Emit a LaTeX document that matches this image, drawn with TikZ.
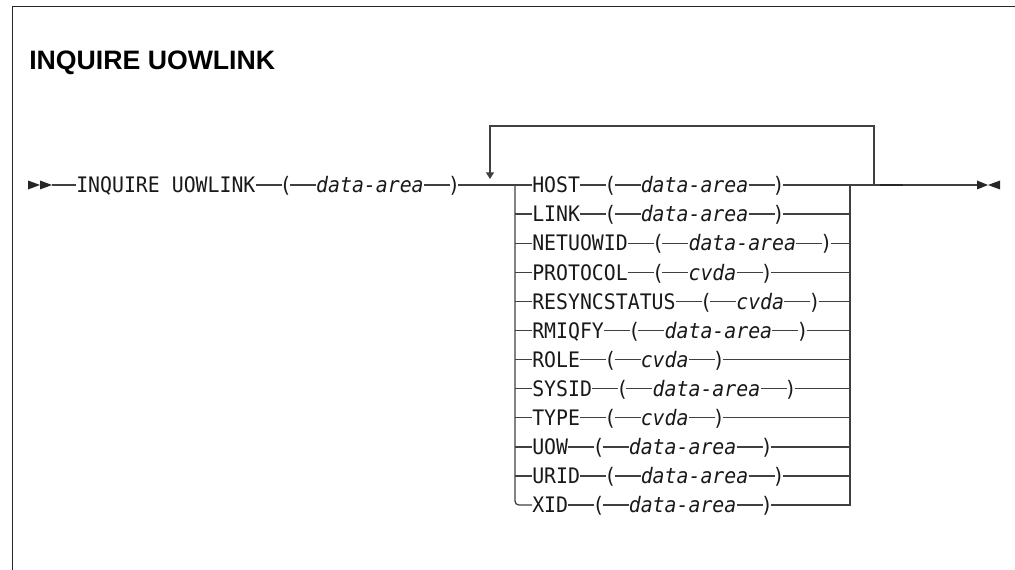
\documentclass[tikz,border=0pt]{standalone}
\usepackage{fontspec}
\setmonofont[FakeStretch=0.93,ItalicFont={DejaVu Sans Mono Oblique}]{DejaVu Sans Mono}
\newfontfamily\headfont{Liberation Sans}
\usetikzlibrary{positioning, calc, arrows.meta}

\tikzset{
  tok/.style={font=\ttfamily\fontsize{16}{16}\selectfont, inner sep=0pt, text height=11.7pt, text depth=0pt, text=black!90},
  var/.style={tok, font=\ttfamily\itshape\fontsize{16}{16}\selectfont},
  rail/.style={draw=black!75, line width=0.95pt},
  intoparen/.style={shorten >=-1.6pt},
  outofparen/.style={shorten <=-1.6pt},
}

\begin{document}
\begin{tikzpicture}[x=0.75pt, y=-0.75pt, node distance=17.9pt]
  \useasboundingbox (0,0) rectangle (1015,570);
  \draw[line width=1.1pt, black!85] (1015,6.5) -- (12.7,6.5) -- (12.7,570);
  \node[anchor=base west, inner sep=0pt, font=\headfont\bfseries\fontsize{20}{24}\selectfont] (title) at (29,70) {INQUIRE UOWLINK};

  \coordinate (begin) at (52,185);
  \coordinate (sl) at (515,185);
  \coordinate (sr) at (850,185);
  \coordinate (loopl) at (490,185);
  \coordinate (looptop) at (490,126);
  \coordinate (loopr) at (874,185);
  \coordinate (finish) at (977,185);

  % start
  \fill[black!85] (28,180.5) -- (40,185) -- (28,189.5) -- cycle (40,180.5) -- (52,185) -- (40,189.5) -- cycle;
  \node[tok, anchor=west] (cmd) at (76,185) {INQUIRE UOWLINK};
  \node[tok, right=of cmd] (lp) {(};
  \node[var, right=of lp] (arg) {data-area};
  \node[tok, right=of arg] (rp) {)};
  \draw[rail] (begin) -- (cmd);
  \draw[rail, intoparen] (cmd) -- (lp);
  \draw[rail, outofparen] (lp) -- (arg);
  \draw[rail, intoparen] (arg) -- (rp);

  % options
  \foreach \kw/\val [count=\i from 0] in {HOST/data-area, LINK/data-area, NETUOWID/data-area, PROTOCOL/cvda, RESYNCSTATUS/cvda, RMIQFY/data-area, ROLE/cvda, SYSID/data-area, TYPE/cvda, UOW/data-area, URID/data-area, XID/data-area} {
    \node[tok, anchor=west] (kw\i) at (532,{185+29.1*\i}) {\kw};
    \node[tok, right=of kw\i] (lp\i) {(};
    \node[var, right=of lp\i] (arg\i) {\val};
    \node[tok, right=of arg\i] (rp\i) {)};
    \draw[rail, intoparen] (kw\i) -- (lp\i);
    \draw[rail, outofparen] (lp\i) -- (arg\i);
    \draw[rail, intoparen] (arg\i) -- (rp\i);
    \ifnum\i<11
      \draw[rail, outofparen] (rp\i) -- (rp\i -| sr);
    \fi
    \ifnum\i>0 \ifnum\i<11
      \draw[rail] (kw\i -| sl) -- (kw\i);
    \fi\fi
  }
  \draw[rail, outofparen] (rp) -- (kw0);
  \draw[rail, rounded corners=3pt] (sl) |- (kw11);
  \draw[rail, outofparen] (rp11) -| (sr);

  % repeat loop
  \draw[rail, -{Triangle[width=6pt,length=5pt]}, shorten >=4.5pt] (loopr) |- (looptop) -- (loopl);

  % end
  \draw[rail] (sr) -- (finish);
  \draw[line width=2pt, black!85] (880,185) -- (903,185);
  \fill[black!85] (977,180.5) -- (988,185) -- (977,189.5) -- cycle (1000,180.5) -- (988,185) -- (1000,189.5) -- cycle;
\end{tikzpicture}
\end{document}
